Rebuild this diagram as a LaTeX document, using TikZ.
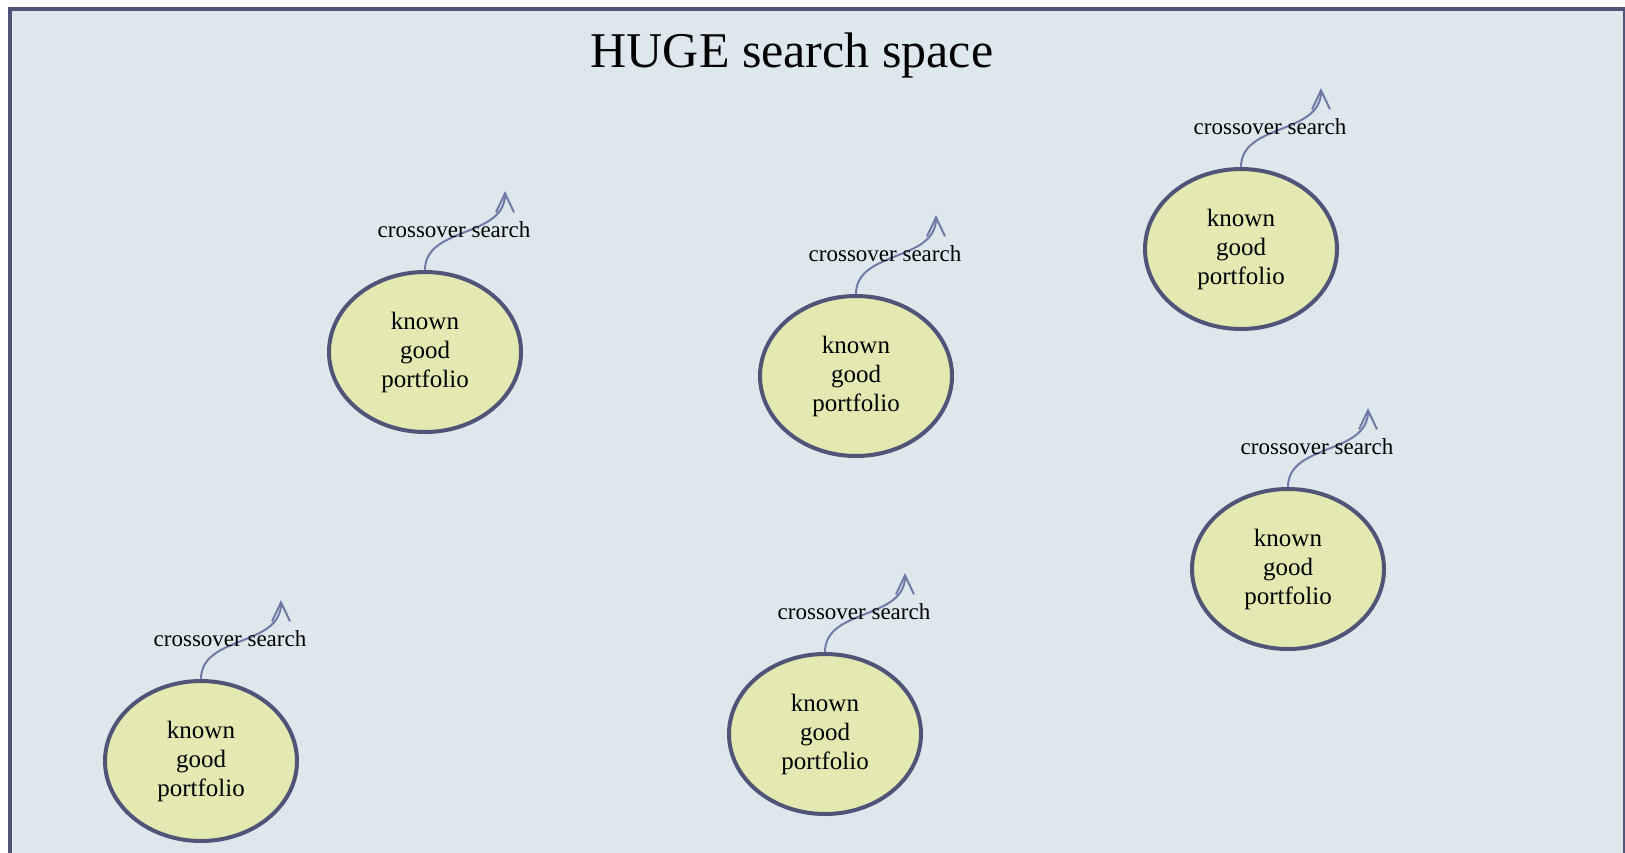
\documentclass[tikz,border=0pt]{standalone}
\usepackage{fontspec}
\setmainfont{Liberation Serif}
\usetikzlibrary{arrows.meta, shapes.geometric, positioning}
\definecolor{spacebg}{RGB}{221,232,237}
\definecolor{frameline}{RGB}{80,85,120}
\definecolor{goodfill}{RGB}{227,233,176}
\definecolor{searchline}{RGB}{112,122,165}
\tikzset{
  >={Straight Barb[length=9.5pt,width=9pt]},
  portfolio/.style={ellipse, draw=frameline, line width=2pt, fill=goodfill,
    minimum width=96pt, minimum height=80pt, inner sep=0pt,
    align=center, font=\fontsize{12.5}{14.5}\selectfont},
  crossover/.style={->, draw=searchline, line width=1pt},
  searchlabel/.style={inner sep=0pt, font=\fontsize{11.5}{13}\selectfont}
}

\begin{document}
\begin{tikzpicture}[x=0.5pt, y=-0.5pt]
    \useasboundingbox (0,0) rectangle (1625,852);
    \clip (0,0) rectangle (1625,852);
    \draw[draw=frameline, line width=2pt, fill=spacebg] (9.5,9) rectangle (1624.5,900);

    \node[anchor=base, inner sep=0pt, font=\fontsize{25}{30}\selectfont] (title) at (792,67) {HUGE search space};

    \node[portfolio] (k1) at (425,352) {known\\good\\portfolio};
    \node[portfolio] (k2) at (856,376) {known\\good\\portfolio};
    \node[portfolio] (k3) at (1241,249) {known\\good\\portfolio};
    \node[portfolio] (k4) at (1288,569) {known\\good\\portfolio};
    \node[portfolio] (k5) at (201,761) {known\\good\\portfolio};
    \node[portfolio] (k6) at (825,734) {known\\good\\portfolio};

    % where each crossover search heads off to
    \coordinate (t1) at ([shift={(80,-79)}]k1.north);
    \coordinate (t2) at ([shift={(80,-79)}]k2.north);
    \coordinate (t3) at ([shift={(80,-79)}]k3.north);
    \coordinate (t4) at ([shift={(80,-79)}]k4.north);
    \coordinate (t5) at ([shift={(80,-79)}]k5.north);
    \coordinate (t6) at ([shift={(80,-79)}]k6.north);

    \draw[crossover] (k1.north) .. controls +(0,-44) and +(0,47) .. (t1);
    \draw[crossover] (k2.north) .. controls +(0,-44) and +(0,47) .. (t2);
    \draw[crossover] (k3.north) .. controls +(0,-44) and +(0,47) .. (t3);
    \draw[crossover] (k4.north) .. controls +(0,-44) and +(0,47) .. (t4);
    \draw[crossover] (k5.north) .. controls +(0,-44) and +(0,47) .. (t5);
    \draw[crossover] (k6.north) .. controls +(0,-44) and +(0,47) .. (t6);

    \node[searchlabel] (c1) at ([shift={(29,-40)}]k1.north) {crossover search};
    \node[searchlabel] (c2) at ([shift={(29,-40)}]k2.north) {crossover search};
    \node[searchlabel] (c3) at ([shift={(29,-40)}]k3.north) {crossover search};
    \node[searchlabel] (c4) at ([shift={(29,-40)}]k4.north) {crossover search};
    \node[searchlabel] (c5) at ([shift={(29,-40)}]k5.north) {crossover search};
    \node[searchlabel] (c6) at ([shift={(29,-40)}]k6.north) {crossover search};
\end{tikzpicture}
\end{document}
